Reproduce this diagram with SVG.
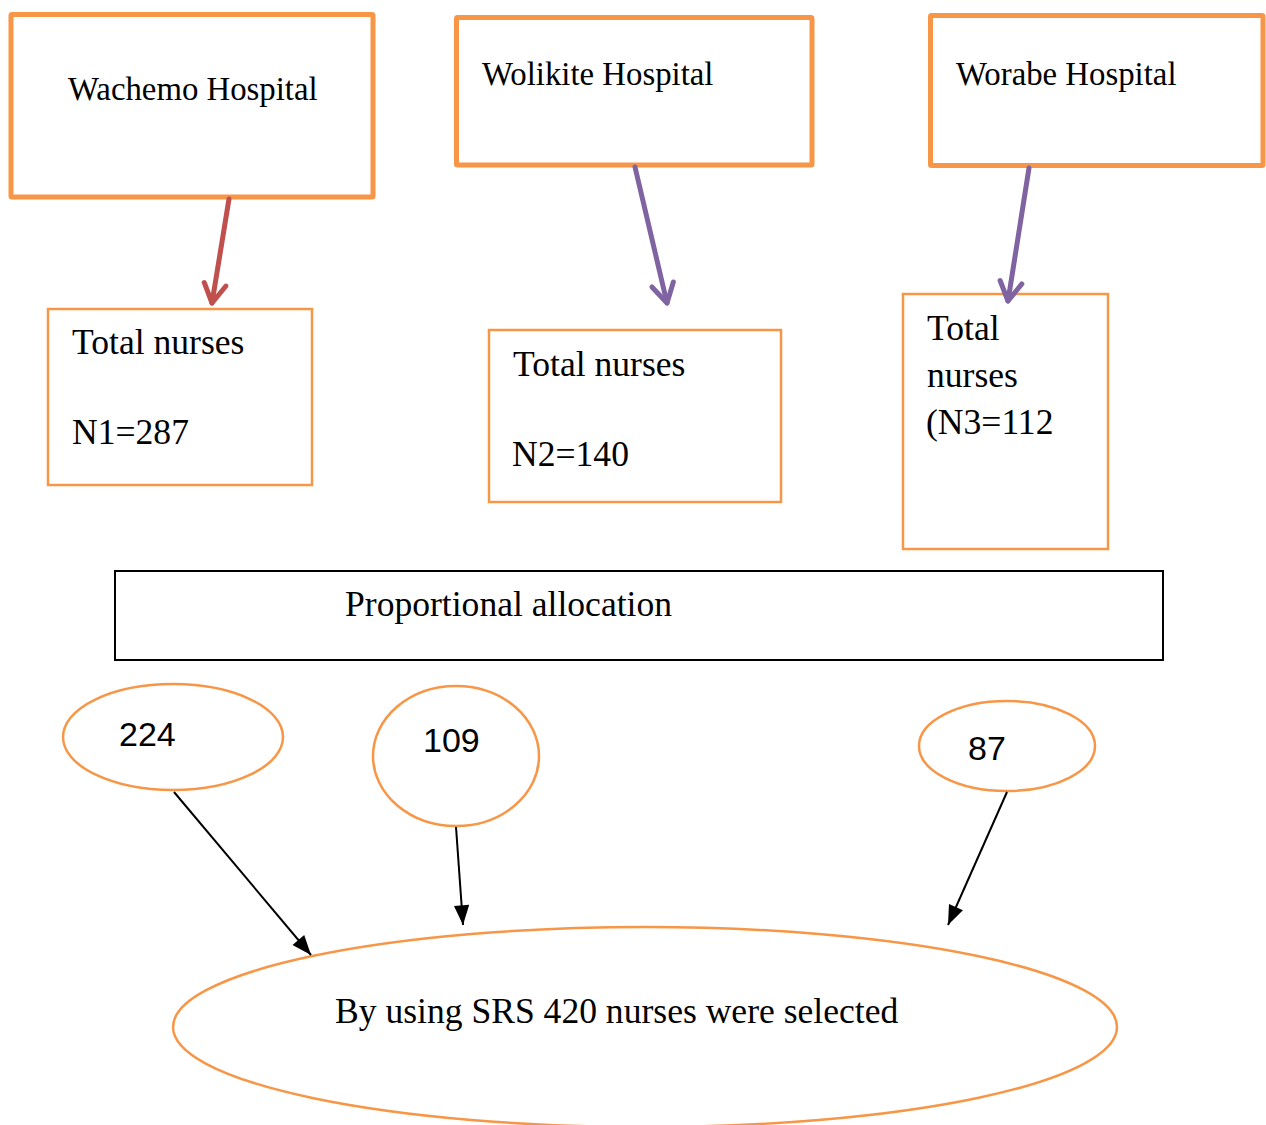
<svg xmlns="http://www.w3.org/2000/svg" width="1266" height="1125" viewBox="0 0 1266 1125">
<style>
.hosp{fill:#fff;stroke:#F79646;stroke-width:5;}
.tot{fill:#fff;stroke:#F79646;stroke-width:2.5;}
.ell{fill:#fff;stroke:#F79646;stroke-width:2.5;}
.serif{font-family:"Liberation Serif","Times New Roman",serif;fill:#000;}
.h{font-size:32.8px;}
.m{font-size:35.6px;}
.sans{font-family:"Liberation Sans",Arial,sans-serif;fill:#000;font-size:34px;}
.big{stroke-width:5;stroke-linecap:round;fill:none;}
.thin{stroke:#000;stroke-width:2;fill:none;}
</style>
<defs>
<marker id="chevR" markerUnits="userSpaceOnUse" markerWidth="40" markerHeight="40" viewBox="-25 -20 30 40" refX="0" refY="0" orient="auto">
<path d="M-19,-11 L0,0 L-19,11" fill="none" stroke="#C0504D" stroke-width="5" stroke-linecap="round" stroke-linejoin="round"/>
</marker>
<marker id="chevP" markerUnits="userSpaceOnUse" markerWidth="40" markerHeight="40" viewBox="-25 -20 30 40" refX="0" refY="0" orient="auto">
<path d="M-19,-11 L0,0 L-19,11" fill="none" stroke="#8064A2" stroke-width="5" stroke-linecap="round" stroke-linejoin="round"/>
</marker>
<marker id="tri" markerUnits="userSpaceOnUse" markerWidth="24" markerHeight="24" viewBox="-20 -10 22 20" refX="0" refY="0" orient="auto">
<path d="M0,0 L-18,-7 L-18,7 Z" fill="#000"/>
</marker>
</defs>

<g id="wachemo">
<rect class="hosp" x="11" y="14.5" width="362" height="182.5" rx="1"/>
<text class="serif h" x="68" y="100">Wachemo Hospital</text>
</g>
<g id="wolikite">
<rect class="hosp" x="456.5" y="17.5" width="355.5" height="147.5" rx="1"/>
<text class="serif h" x="482" y="85">Wolikite Hospital</text>
</g>
<g id="worabe">
<rect class="hosp" x="930.5" y="15.5" width="332.5" height="150" rx="1"/>
<text class="serif h" x="956" y="85">Worabe Hospital</text>
</g>

<g id="total1">
<rect class="tot" x="48" y="309" width="264" height="176"/>
<text class="serif m" x="72" y="354">Total nurses</text>
<text class="serif m" x="72" y="444">N1=287</text>
</g>
<g id="total2">
<rect class="tot" x="489" y="330" width="292" height="172"/>
<text class="serif m" x="513" y="376">Total nurses</text>
<text class="serif m" x="512" y="466">N2=140</text>
</g>
<g id="total3">
<rect class="tot" x="903" y="294" width="205" height="255"/>
<text class="serif m" x="927" y="340">Total</text>
<text class="serif m" x="927" y="387">nurses</text>
<text class="serif m" x="926" y="434">(N3=112</text>
</g>

<g id="proportional">
<rect x="115" y="571" width="1048" height="89" fill="#fff" stroke="#000" stroke-width="2"/>
<text class="serif m" x="345" y="616">Proportional allocation</text>
</g>

<g id="n224">
<ellipse class="ell" cx="173" cy="737" rx="110" ry="53"/>
<text class="sans" x="119" y="746">224</text>
</g>
<g id="n109">
<ellipse class="ell" cx="456" cy="756" rx="83" ry="70"/>
<text class="sans" x="423" y="752">109</text>
</g>
<g id="n87">
<ellipse class="ell" cx="1007" cy="746" rx="88" ry="45"/>
<text class="sans" x="968" y="760">87</text>
</g>

<g id="selected">
<ellipse class="ell" cx="645" cy="1027" rx="472" ry="100"/>
<text class="serif m" x="335" y="1023">By using SRS 420 nurses were selected</text>
</g>

<g id="connectors">
<line class="big" x1="229" y1="199" x2="212" y2="303" stroke="#C0504D" marker-end="url(#chevR)"/>
<line class="big" x1="635" y1="167" x2="667" y2="303" stroke="#8064A2" marker-end="url(#chevP)"/>
<line class="big" x1="1029" y1="168" x2="1008" y2="301" stroke="#8064A2" marker-end="url(#chevP)"/>
<line class="thin" x1="174" y1="792" x2="311" y2="955" marker-end="url(#tri)"/>
<line class="thin" x1="456" y1="827" x2="463" y2="925" marker-end="url(#tri)"/>
<line class="thin" x1="1007" y1="792" x2="948" y2="925" marker-end="url(#tri)"/>
</g>
</svg>
